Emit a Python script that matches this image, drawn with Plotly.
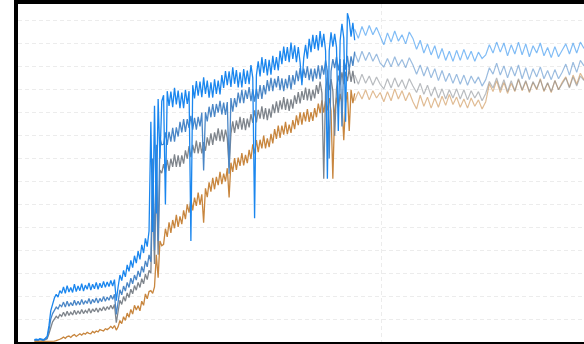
import numpy as np
import plotly.graph_objects as go

# ---- training curves (half-step resolution, steps 4.5 .. 92.5) ----
blue_train = [
    0.5, 0.6, 0.5, 0.7, 0.6, 0.5, 0.8, 1.2, 3.5, 6.8, 8.2, 9.6, 10.4, 9.8, 11.2, 10.6,
    12.0, 10.6, 12.3, 10.9, 11.9, 10.8, 12.6, 11.0, 12.2, 11.2, 12.7, 11.1, 12.4,
    11.5, 12.9, 11.3, 12.6, 11.6, 13.0, 11.5, 12.8, 11.8, 13.2, 11.9, 13.1, 12.1,
    13.4, 12.2, 13.6, 9.0, 12.0, 14.6, 13.4, 15.6, 14.2, 16.8, 15.4, 17.8, 16.2,
    18.8, 17.2, 19.8, 18.0, 21.2, 19.4, 22.6, 20.8, 24.2,
    48.0, 24.0, 51.5, 28.0, 53.0, 40.0, 52.5,
    53.8, 30.0, 54.7, 51.5, 54.6, 51.2, 55.4, 51.8, 54.8, 51.0,
    54.4, 51.0, 55.0, 51.9, 54.7, 22.0, 56.0, 53.1, 56.9, 53.7,
    56.8, 53.4, 57.7, 54.1, 57.0, 53.3, 56.6, 53.3, 57.3, 54.1,
    57.0, 54.0, 58.2, 55.4, 59.1, 56.0, 59.0, 55.6, 59.9, 56.3,
    59.3, 55.5, 58.8, 55.5, 59.5, 56.3, 59.2, 56.2, 60.4, 57.6,
    27.0, 58.2, 61.2, 57.9, 62.1, 58.7, 61.7, 58.1, 61.5, 58.3,
    62.4, 59.3, 62.1, 59.2, 63.5, 60.6, 64.4, 61.3, 64.3, 61.0,
    65.3, 61.7, 64.7, 61.0, 64.3, 61.0, 56.0, 61.9, 64.8, 61.8,
    66.1, 63.2, 67.0, 63.9, 66.9, 63.6, 67.8, 64.3, 67.2, 63.5,
    35.6, 63.5, 67.5, 64.4, 67.2, 64.3, 46.0, 65.7, 69.4, 66.3,
    48.0, 71.7, 70.2, 66.6, 69.6, 65.8,
]
steel_train = [
    0.4, 0.5, 0.4, 0.6, 0.5, 0.4, 0.6, 0.9, 2.6, 5.0, 6.2, 7.0, 7.6, 7.2, 8.1, 7.7,
    8.7, 7.6, 8.9, 7.8, 8.6, 7.9, 9.1, 8.0, 8.9, 8.1, 9.3, 8.2, 9.0, 8.4, 9.5, 8.3,
    9.3, 8.6, 9.6, 8.5, 9.5, 8.8, 9.9, 8.9, 9.8, 9.1,
    10.2, 9.3, 10.4, 6.0, 9.0, 11.4, 10.3, 12.2, 11.1, 13.0, 11.9, 13.9, 12.7,
    14.6, 13.5, 15.5, 14.2, 16.5, 15.2, 17.7, 16.4, 19.0,
    17.5, 40.0, 20.0, 43.0, 22.0, 44.5, 43.0,
    43.1, 45.7, 43.0, 45.8, 43.7, 46.7, 43.7, 46.8, 44.8, 48.0,
    45.7, 48.6, 45.8, 48.6, 46.7, 49.3, 46.3, 48.9, 46.3, 49.1,
    47.0, 50.0, 37.4, 50.1, 48.1, 51.3, 49.0, 51.9, 49.1, 51.9,
    50.0, 52.6, 49.6, 52.2, 49.5, 52.3, 36.7, 53.2, 50.2, 53.2,
    51.2, 54.4, 52.1, 55.0, 52.1, 54.9, 53.0, 55.6, 52.5, 55.1,
    52.4, 55.2, 53.0, 56.0, 53.0, 56.0, 54.0, 57.1, 54.7, 57.6,
    54.7, 57.4, 55.5, 58.0, 54.9, 57.5, 54.7, 57.4, 55.3, 58.2,
    55.1, 58.2, 56.1, 59.2, 56.9, 59.7, 56.8, 59.6, 57.6, 60.1,
    57.1, 59.6, 56.8, 59.6, 57.4, 60.3, 57.3, 60.3, 58.3, 61.4,
    59.1, 40.0, 59.0, 61.7, 59.7, 62.2, 59.2, 61.7, 47.0, 61.6,
    59.4, 62.4, 59.3, 62.3, 60.2, 63.3,
]
gray_train = [
    0.3, 0.4, 0.3, 0.5, 0.4, 0.3, 0.5, 0.7, 1.8, 3.4, 4.4, 5.0, 5.6, 5.2, 6.0, 5.6,
    6.5, 5.6, 6.7, 5.8, 6.5, 5.9, 6.9, 6.0, 6.8, 6.1, 7.1, 6.2, 6.9, 6.4, 7.3, 6.3,
    7.2, 6.6, 7.4, 6.5, 7.4, 6.8, 7.7, 6.9, 7.7, 7.1,
    8.0, 7.2, 8.2, 4.2, 7.1, 9.1, 8.2, 9.9, 8.9, 10.7, 9.7, 11.5, 10.5,
    12.3, 11.3, 13.0, 11.9, 13.8, 12.7, 14.8, 13.6, 15.6,
    15.0, 34.0, 17.0, 36.5, 19.0, 37.5, 36.8,
    38.8, 37.0, 39.7, 37.3, 40.0, 38.2, 40.9, 38.2, 40.7, 38.2,
    40.7, 38.9, 41.8, 40.0, 42.7, 40.3, 43.0, 41.2, 43.9, 41.1,
    43.6, 41.1, 43.6, 41.7, 44.6, 42.8, 45.5, 43.0, 45.7, 43.9,
    46.6, 43.8, 46.3, 43.7, 46.3, 44.4, 38.0, 45.4, 48.1, 45.6,
    48.3, 46.4, 49.1, 46.3, 48.8, 46.2, 48.7, 46.8, 49.7, 47.8,
    50.5, 47.9, 50.6, 48.7, 51.4, 48.6, 51.0, 48.4, 50.9, 48.9,
    51.8, 49.9, 52.5, 50.0, 52.7, 50.7, 53.4, 50.6, 53.0, 50.4,
    52.9, 50.9, 53.8, 51.9, 54.5, 52.0, 54.7, 52.8, 55.5, 52.7,
    55.2, 52.6, 55.0, 53.1, 56.0, 54.1, 56.8, 54.3, 35.6, 55.0,
    57.7, 54.9, 57.3, 54.7, 45.0, 55.2, 58.1, 56.1, 58.8, 56.2,
    58.9, 56.9, 59.6, 56.7, 59.1, 56.4,
]
orange_train = [
    0.1, 0.1, 0.1, 0.1, 0.1, 0.1, 0.1, 0.1, 0.1, 0.1, 0.2, 0.2, 0.3, 0.4, 0.6, 0.8,
    1.1, 0.8, 1.2, 1.3, 1.0, 1.4, 1.6, 1.2, 1.6, 1.8, 1.5, 1.9, 1.7, 2.1, 1.9, 1.8,
    2.3, 2.0, 2.4, 2.2, 2.7, 2.5, 2.4, 2.9, 2.7, 3.0,
    3.4, 3.0, 3.6, 2.6, 3.3, 4.7, 4.0, 5.5, 4.7, 6.3, 5.4, 7.1, 6.1,
    8.0, 7.0, 7.9, 6.8, 8.9, 8.0, 10.5, 9.4, 11.0,
    11.2, 10.6, 12.0, 19.0, 14.0, 22.0, 21.0,
    21.3, 24.7, 22.9, 26.1, 23.8, 26.6, 24.8, 27.7, 25.1, 27.4,
    25.7, 28.7, 26.8, 30.0, 28.2, 31.2, 28.7, 31.5, 29.7, 32.6,
    29.9, 32.2, 26.0, 33.5, 31.6, 34.8, 32.8, 35.8, 33.3, 36.0,
    34.2, 37.1, 34.4, 36.7, 35.0, 37.9, 31.5, 39.1, 37.1, 40.1,
    37.5, 40.2, 38.4, 41.2, 38.5, 40.8, 39.0, 41.9, 39.9, 43.1,
    41.1, 44.0, 41.4, 44.1, 42.2, 45.0, 42.2, 44.4, 42.5, 45.4,
    43.3, 46.4, 44.3, 47.2, 44.5, 47.2, 45.2, 48.0, 45.3, 47.4,
    45.6, 48.4, 46.4, 49.4, 47.3, 50.1, 47.4, 50.1, 48.1, 50.8,
    48.0, 50.1, 48.2, 51.0, 49.0, 52.0, 49.9, 52.7, 50.0, 52.6,
    50.5, 53.2, 50.4, 35.6, 50.5, 53.3, 51.1, 54.1, 52.0, 44.0,
    52.0, 54.5, 46.0, 55.0, 52.1, 54.2,
]

# ---- continuation curves (whole steps, 92.5 .. 155.5) ----
blue_cont = [
    68.2, 66.2, 68.8, 66.8, 69.0, 67.0, 68.6, 66.6, 64.8,
    67.4, 65.4, 67.8, 65.6, 67.0, 65.0, 67.6, 66.2, 63.8,
    65.8, 63.0, 65.0, 62.6, 64.6, 61.8, 64.0, 61.4, 63.4, 61.2,
    63.6, 61.4, 63.8, 61.6, 63.4, 61.2, 63.2, 61.8, 62.6, 64.8,
    63.0, 65.4, 63.2, 65.2, 62.4, 64.8, 62.8, 65.4, 62.6, 65.0,
    62.2, 64.6, 63.0, 65.2, 62.4, 64.2, 62.0, 64.4, 62.2, 63.6,
    65.0, 62.8, 65.2, 63.0, 65.4, 64.0,
]
steel_cont = [
    63.0, 61.0, 63.4, 61.4, 63.2, 61.2, 62.8, 60.8, 60.0,
    61.8, 60.0, 62.2, 60.2, 61.6, 59.8, 62.0, 60.4, 58.4,
    60.4, 58.0, 60.0, 57.6, 59.6, 57.0, 59.2, 56.8, 58.6, 56.4,
    58.4, 56.2, 58.2, 56.0, 58.0, 56.4, 57.8, 55.8, 57.2, 59.8,
    58.4, 60.8, 58.2, 60.2, 57.6, 60.0, 58.0, 60.4, 57.4, 59.8,
    57.2, 59.6, 57.8, 60.0, 57.4, 59.2, 57.2, 59.4, 57.4, 58.8,
    60.6, 58.2, 61.0, 58.8, 61.4, 60.2,
]
gray_cont = [
    58.2, 56.2, 58.4, 56.4, 58.0, 56.0, 57.8, 56.2, 55.2,
    57.4, 55.4, 57.6, 55.6, 57.2, 55.2, 57.4, 55.8, 54.4,
    56.4, 54.0, 56.0, 53.6, 55.6, 53.2, 55.2, 53.0, 55.0, 53.2,
    55.2, 53.0, 55.0, 52.8, 54.8, 53.2, 54.6, 52.6, 54.2, 56.8,
    55.4, 57.6, 55.0, 57.2, 54.6, 57.0, 54.8, 57.4, 55.0, 57.0,
    54.6, 56.8, 55.2, 57.2, 54.8, 56.6, 54.6, 57.0, 55.0, 56.4,
    57.6, 55.4, 57.8, 55.8, 58.0, 57.0,
]
orange_cont = [
    52.6, 54.6, 53.0, 55.0, 52.8, 54.8, 53.2, 54.4, 52.4,
    54.6, 52.6, 55.2, 53.0, 54.8, 52.6, 54.4, 52.4, 50.8,
    53.8, 51.4, 53.4, 51.0, 53.2, 51.2, 53.6, 51.6, 54.0, 51.8,
    53.4, 51.2, 53.0, 51.0, 53.2, 51.4, 52.8, 50.8, 52.4, 56.3,
    54.6, 57.0, 54.4, 56.6, 54.2, 56.4, 54.6, 57.2, 54.8, 56.8,
    54.4, 56.6, 55.0, 57.4, 54.6, 56.4, 54.4, 57.0, 55.0, 56.6,
    57.8, 55.6, 58.2, 56.2, 58.6, 57.2,
]

train_lists = [blue_train, steel_train, gray_train, orange_train]
cont_lists = [blue_cont, steel_cont, gray_cont, orange_cont]
assert len({len(s) for s in train_lists}) == 1, [len(s) for s in train_lists]
assert len({len(s) for s in cont_lists}) == 1, [len(s) for s in cont_lists]

train_steps = 4.5 + 0.5 * np.arange(len(blue_train))
cont_steps = 92.5 + 1.0 * np.arange(len(blue_cont))

colors = ["#1a86ee", "#4a86c6", "#7f858c", "#c8863e"]
names = ["run A", "run B", "run C", "run D"]

fig = go.Figure()

# lighter continuation lines underneath
for vals, col, nm in zip(cont_lists[::-1], colors[::-1], names[::-1]):
    fig.add_trace(go.Scatter(
        x=cont_steps, y=vals, mode="lines", name=nm + " (cont.)",
        line=dict(color=col, width=1.2), opacity=0.55, showlegend=False,
    ))

# main noisy training curves, blue drawn last so it sits on top
for vals, col, nm in zip(train_lists[::-1], colors[::-1], names[::-1]):
    fig.add_trace(go.Scatter(
        x=train_steps, y=vals, mode="lines", name=nm,
        line=dict(color=col, width=1.3), showlegend=False,
    ))

fig.update_layout(
    width=584, height=344,
    margin=dict(l=18, r=0, t=4, b=2),
    paper_bgcolor="white", plot_bgcolor="white",
    showlegend=False,
)
grid = dict(showgrid=True, gridcolor="#ececec", griddash="4px,3px", gridwidth=1,
            showticklabels=False, ticks="", zeroline=False,
            showline=True, linecolor="black", linewidth=4)
fig.update_xaxes(range=[0, 155.5], dtick=100, mirror=True, **grid)
fig.update_yaxes(range=[0, 73.7], dtick=5, mirror=False, **grid)

fig.write_html("out.html")
